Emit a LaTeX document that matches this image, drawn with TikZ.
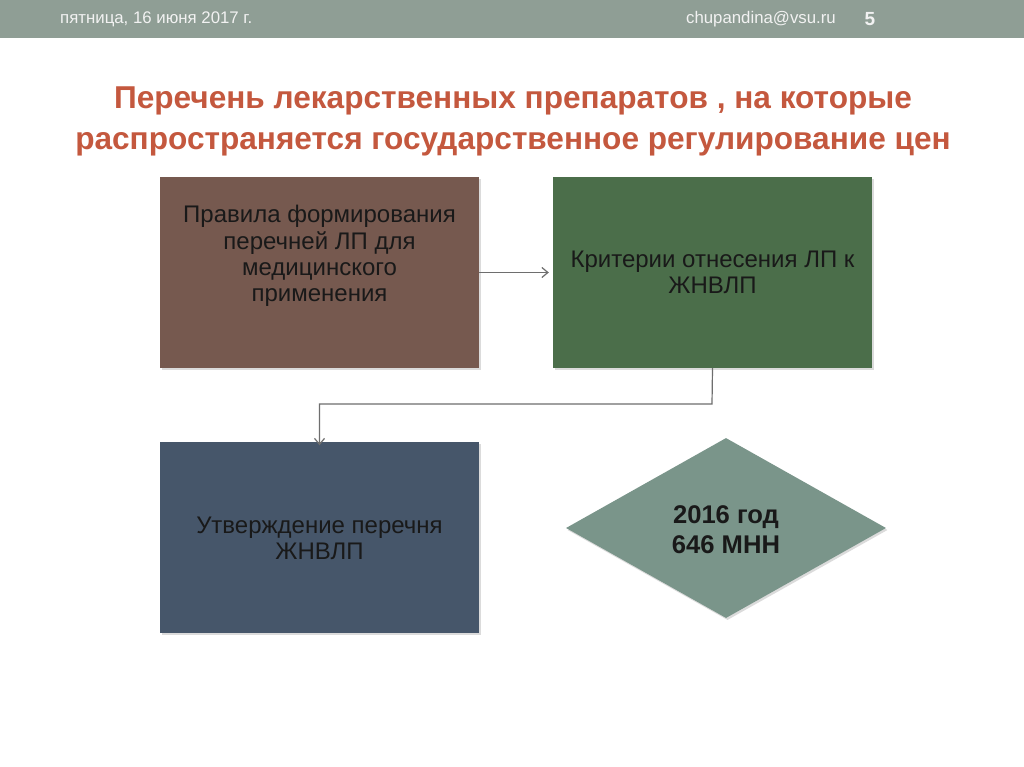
\documentclass[tikz,border=0pt]{standalone}
\usepackage{fontspec}
\setmainfont{Liberation Sans}
\usetikzlibrary{shapes.geometric,arrows.meta,shadows}
\definecolor{headbar}{HTML}{8F9E95}
\definecolor{titlecol}{HTML}{C4583E}
\definecolor{boxbrown}{HTML}{76594F}
\definecolor{boxgreen}{HTML}{4B6E4A}
\definecolor{boxslate}{HTML}{46566A}
\definecolor{diamcol}{HTML}{7A958A}
\definecolor{linecol}{HTML}{6E6E6E}
\tikzset{
  box/.style={draw=none, minimum width=319pt, minimum height=191pt, inner sep=0pt,
    drop shadow={shadow xshift=1.5pt, shadow yshift=-2pt, opacity=0.35, fill=black!40}},
  boxtext/.style={font=\fontsize{24}{26.3}\selectfont, align=center, text=black!90},
  conn/.style={draw=linecol, line width=1.2pt, -{Straight Barb[length=6pt,width=10pt,line width=1.2pt]}},
  headtext/.style={text=white!95!black, font=\fontsize{16.8}{18}\selectfont, inner sep=0pt}
}
\begin{document}
\begin{tikzpicture}[x=1pt,y=-1pt]
\useasboundingbox (0,0) rectangle (1024,767);
\fill[white] (0,0) rectangle (1024,767);
\fill[headbar] (0,0) rectangle (1024,38);
\node[headtext, anchor=west] (date) at (60,19) {пятница, 16 июня 2017 г.};
\node[headtext, anchor=east] (mail) at (836,19) {chupandina@vsu.ru};
\node[headtext, font=\fontsize{19}{20}\bfseries\selectfont] (num) at (870,19) {5};
\node[text=titlecol, font=\fontsize{31.6}{41}\bfseries\selectfont, align=center] (title) at (513,121)
  {Перечень лекарственных препаратов , на которые\\распространяется государственное регулирование цен};
\node[box, fill=boxbrown] (b1) at (319.5,272.5) {};
\node[boxtext] (t1) at (319.5,256)
  {Правила формирования\\перечней ЛП для\\медицинского\\применения};
\node[box, fill=boxgreen] (b2) at (712.5,272.5) {};
\node[boxtext] (t2) at (712.5,272)
  {Критерии отнесения ЛП к\\ЖНВЛП};
\node[box, fill=boxslate] (b3) at (319.5,537) {};
\node[boxtext] (t3) at (319.5,538.5)
  {Утверждение перечня\\ЖНВЛП};
\node[diamond, aspect=1.78, fill=diamcol, inner sep=0pt, minimum width=320pt, minimum height=180pt,
  drop shadow={shadow xshift=1.5pt, shadow yshift=-2pt, opacity=0.35, fill=black!40}] (d) at (726,528) {};
\node[font=\fontsize{25.6}{30}\bfseries\selectfont, align=center, text=black!90] (dt) at (726,530)
  {2016 год\\646 МНН};
\draw[conn] (b1.east) -- ([xshift=-4pt]b2.west);
\coordinate (c1) at (712,404);
\coordinate (c2) at (319.5,404);
\draw[conn] (b2.south) -- (c1) -- (c2) -- ([yshift=-4pt]b3.north);
\end{tikzpicture}
\end{document}
